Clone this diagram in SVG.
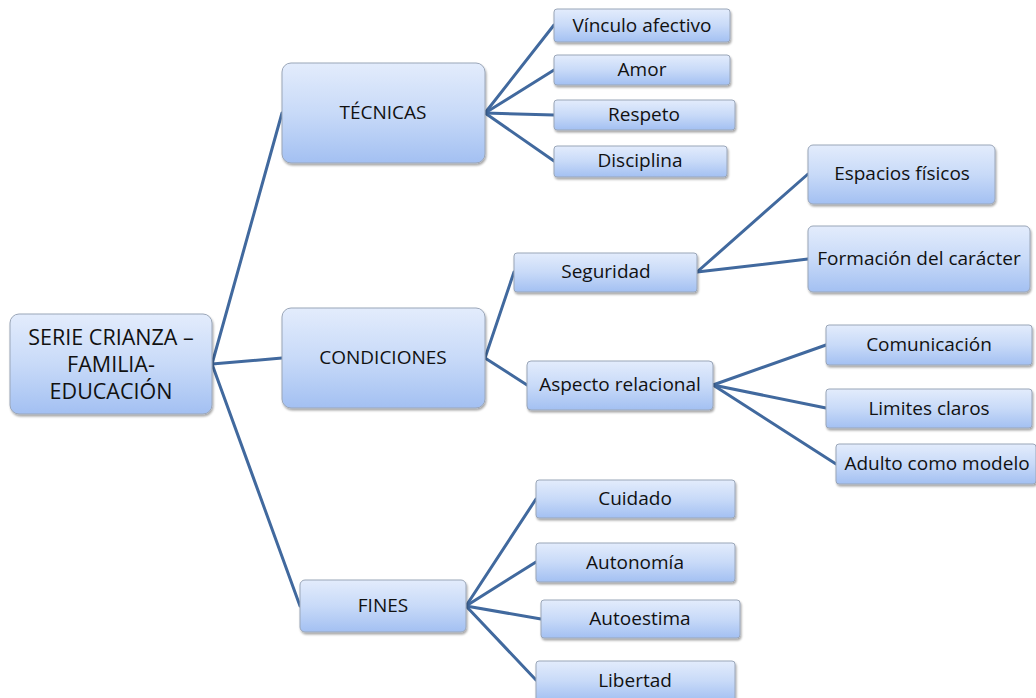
<svg xmlns="http://www.w3.org/2000/svg" width="1036" height="698" viewBox="0 0 1036 698">
<defs>
<linearGradient id="g" x1="0" y1="0" x2="0" y2="1">
<stop offset="0" stop-color="#e3ecfc"/>
<stop offset="0.5" stop-color="#c8daf8"/>
<stop offset="1" stop-color="#a3c0f2"/>
</linearGradient>
<filter id="sh" x="-10%" y="-20%" width="120%" height="150%">
<feDropShadow dx="1" dy="2" stdDeviation="1.2" flood-color="#000" flood-opacity="0.35"/>
</filter>
</defs>
<style>
rect{fill:url(#g);stroke:#9aa6b8;stroke-width:1;filter:url(#sh)}
text{font-family:"Open Sans","Liberation Sans",Arial,sans-serif;font-size:19px;fill:#111;text-anchor:middle}
.big{font-size:21.5px}
.c line{stroke:#41699e;stroke-width:3;stroke-linecap:round}
</style>
<rect width="1036" height="698" fill="#fff" style="fill:#fff;stroke:none;filter:none"/>
<g class="c" id="connectors">
<line x1="212" y1="364" x2="282" y2="113"/>
<line x1="212" y1="364" x2="282" y2="358"/>
<line x1="212" y1="364" x2="300" y2="606"/>
<line x1="485" y1="113" x2="554" y2="25"/>
<line x1="485" y1="113" x2="554" y2="70"/>
<line x1="485" y1="113" x2="554" y2="115"/>
<line x1="485" y1="113" x2="554" y2="161"/>
<line x1="485" y1="358" x2="514" y2="272"/>
<line x1="485" y1="358" x2="527" y2="385"/>
<line x1="697" y1="272" x2="808" y2="174"/>
<line x1="697" y1="272" x2="808" y2="259"/>
<line x1="713" y1="385" x2="826" y2="345"/>
<line x1="713" y1="385" x2="826" y2="408"/>
<line x1="713" y1="385" x2="836" y2="464"/>
<line x1="466" y1="606" x2="536" y2="499"/>
<line x1="466" y1="606" x2="536" y2="562"/>
<line x1="466" y1="606" x2="541" y2="619"/>
<line x1="466" y1="606" x2="536" y2="680"/>
</g>
<g id="root"><rect x="10" y="314" width="202" height="100" rx="9"/>
<text class="big" x="111" y="345">SERIE CRIANZA –</text>
<text class="big" x="111" y="372">FAMILIA-</text>
<text class="big" x="111" y="399">EDUCACIÓN</text></g>
<g id="tecnicas"><rect x="282" y="63" width="203" height="100" rx="9"/><text x="383" y="119">TÉCNICAS</text></g>
<g id="condiciones"><rect x="282" y="308" width="203" height="100" rx="9"/><text x="383" y="364">CONDICIONES</text></g>
<g id="fines"><rect x="300" y="580" width="166" height="52" rx="5"/><text x="383" y="612">FINES</text></g>
<g id="vinculo"><rect x="554" y="9" width="176" height="33" rx="3"/><text x="642" y="32">Vínculo afectivo</text></g>
<g id="amor"><rect x="554" y="55" width="176" height="30" rx="3"/><text x="642" y="76">Amor</text></g>
<g id="respeto"><rect x="554" y="100" width="181" height="30" rx="3"/><text x="644" y="121">Respeto</text></g>
<g id="disciplina"><rect x="554" y="146" width="173" height="31" rx="3"/><text x="640" y="167">Disciplina</text></g>
<g id="seguridad"><rect x="514" y="253" width="183" height="39" rx="3"/><text x="606" y="278">Seguridad</text></g>
<g id="aspecto"><rect x="527" y="361" width="186" height="49" rx="4"/><text x="620" y="391">Aspecto relacional</text></g>
<g id="espacios"><rect x="808" y="145" width="187" height="59" rx="5"/><text x="902" y="180">Espacios físicos</text></g>
<g id="formacion"><rect x="808" y="226" width="222" height="66" rx="5"/><text x="919" y="265">Formación del carácter</text></g>
<g id="comunicacion"><rect x="826" y="325" width="206" height="40" rx="3"/><text x="929" y="351">Comunicación</text></g>
<g id="limites"><rect x="826" y="389" width="206" height="39" rx="3"/><text x="929" y="415">Limites claros</text></g>
<g id="adulto"><rect x="836" y="444" width="200" height="40" rx="3"/><text x="937" y="470">Adulto como modelo</text></g>
<g id="cuidado"><rect x="536" y="480" width="199" height="38" rx="3"/><text x="635" y="505">Cuidado</text></g>
<g id="autonomia"><rect x="536" y="543" width="199" height="39" rx="3"/><text x="635" y="569">Autonomía</text></g>
<g id="autoestima"><rect x="541" y="600" width="199" height="38" rx="3"/><text x="640" y="625">Autoestima</text></g>
<g id="libertad"><rect x="536" y="661" width="199" height="40" rx="3"/><text x="635" y="687">Libertad</text></g>
</svg>
